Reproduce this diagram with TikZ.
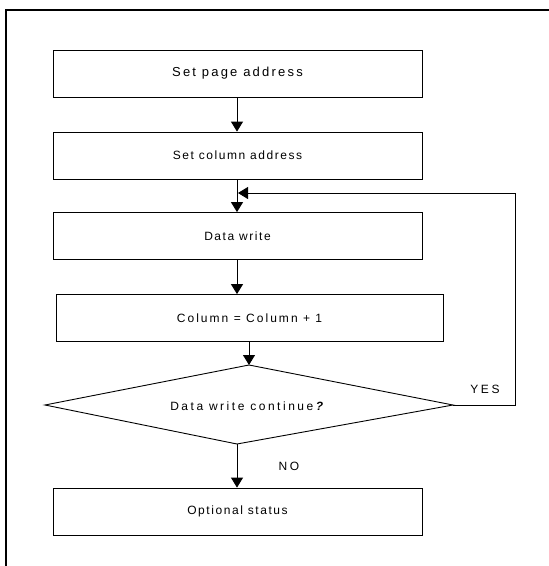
\documentclass[tikz,border=0pt]{standalone}
\usepackage{fontspec}
\setmainfont{Liberation Sans}
\newfontfamily\lsafont{Liberation Sans}[LetterSpace=13]
\newfontfamily\lsbfont{Liberation Sans}[LetterSpace=17]
\newfontfamily\lscfont{Liberation Sans}[LetterSpace=21]
\usetikzlibrary{arrows.meta}
\begin{document}
\begin{tikzpicture}[x=1pt,y=-1pt,
  stepbox/.style={draw, line width=0.8pt, minimum height=47pt, inner sep=0pt, font=\lsafont\fontsize{12}{14}\selectfont},
  arr/.style={line width=0.9pt, -{Triangle[width=12pt,length=10pt]}},
  ln/.style={line width=0.9pt},
  lbl/.style={font=\lscfont\fontsize{12}{14}\selectfont, inner sep=0pt}]
\useasboundingbox (0,0) rectangle (549,566);
\draw[line width=1.5pt] (6,10) rectangle (600,620);
\node[stepbox, minimum width=369pt, font=\lsbfont\fontsize{13}{15}\selectfont] (b1) at (237.5,73.5) {Set page address};
\node[stepbox, minimum width=369pt] (b2) at (237.5,155.5) {Set column address};
\node[stepbox, minimum width=369pt] (b3) at (237.5,236) {Data write};
\node[stepbox, minimum width=387pt, font=\lsbfont\fontsize{12}{14}\selectfont] (b4) at (249.5,318) {Column = Column + 1};
\node[stepbox, minimum width=369pt] (b5) at (237.5,511.5) {Optional status};
\coordinate (dt) at (249,365);
\coordinate (dr) at (453,405);
\coordinate (db) at (237,444);
\coordinate (dl) at (45,405);
\draw[ln] (dt) -- (dr) -- (db) -- (dl) -- cycle;
\node[lbl] (dtext) at (248,406) {Data write continue\textbf{\textit{?}}};
\node[lbl] (yes) at (485,389) {YES};
\node[lbl] (no) at (289,466) {NO};
\coordinate (c1) at (515,405);
\coordinate (c2) at (515,193);
\coordinate (c3) at (238,193);
\draw[arr] (b1.south -| 237,0) -- (b2.north -| 237,0);
\draw[arr] (b2.south -| 237,0) -- (b3.north -| 237,0);
\draw[arr] (b3.south -| 237,0) -- (b4.north -| 237,0);
\draw[arr] (b4.south -| dt) -- (dt);
\draw[arr] (db) -- (b5.north -| db);
\draw[arr] (dr) -- (c1) -- (c2) -- (c3);
\end{tikzpicture}
\end{document}
